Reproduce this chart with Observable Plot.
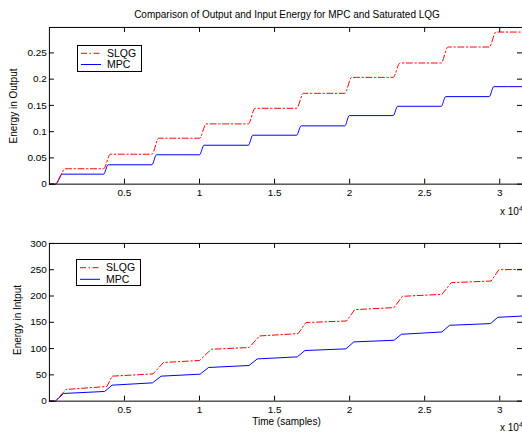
<!DOCTYPE html>
<html>
<head>
<meta charset="utf-8">
<script src="https://cdn.jsdelivr.net/npm/d3@7"></script>
<script src="https://cdn.jsdelivr.net/npm/@observablehq/plot@0.6"></script>
<style>
  body { margin: 0; background: #fff; }
  #fig { position: relative; width: 522px; height: 432px; overflow: hidden; background: #fff;
         font-family: "Liberation Sans", Arial, Helvetica, sans-serif; color: #000; }
  .abs { position: absolute; white-space: nowrap; font-size: 10px; line-height: 10px; }
  .panel { position: absolute; left: 0; }
  .ylab { position: absolute; white-space: nowrap; font-size: 10px; line-height: 10px;
          transform: translate(-50%, -50%) rotate(-90deg); }
  .legend { position: absolute; }
  sup { font-size: 7px; vertical-align: 4px; line-height: 0; }
</style>
</head>
<body>
<div id="fig">
  <div class="abs" id="title" style="left:287px; top:10px; transform:translateX(-50%);">Comparison of Output and Input Energy for MPC and Saturated LQG</div>
  <div class="panel" id="top" style="top:0px;"></div>
  <div class="panel" id="bottom" style="top:216px;"></div>
  <div class="ylab" style="left:14px; top:106px;">Energy in Output</div>
  <div class="ylab" style="left:17.5px; top:320px;">Energy in Intput</div>
  <div class="abs" style="left:286.5px; top:417px; transform:translateX(-50%);">Time (samples)</div>
  <div class="abs" style="left:500px; top:207px;">x 10<sup>4</sup></div>
  <div class="abs" style="left:500px; top:423px;">x 10<sup>4</sup></div>
  <svg class="legend" id="leg1" style="left:77px; top:45px;" width="66" height="28"></svg>
  <svg class="legend" id="leg2" style="left:76px; top:259px;" width="66" height="28"></svg>
</div>
<script>
// ---------- data ----------
const seriesNames = ["SLQG", "MPC"];
const xTicks = [5000, 10000, 15000, 20000, 25000, 30000];
const topYTicks = [0, 0.05, 0.1, 0.15, 0.2, 0.25];
const bottomYTicks = [0, 50, 100, 150, 200, 250, 300];

// Energy in Output
const topSLQGx = [0, 400, 1060, 3610, 4060, 6830, 7280, 10000, 10450, 13250, 13700, 16470, 16920, 19680, 20130, 22900, 23350, 26100, 26550, 29300, 29750, 31600];
const topSLQGy = [0, 0, 0.0293, 0.0293, 0.057, 0.057, 0.0875, 0.0875, 0.1148, 0.1148, 0.1445, 0.1445, 0.173, 0.173, 0.2034, 0.2034, 0.2308, 0.2308, 0.2612, 0.2612, 0.2897, 0.2897];
const topMPCx = [0, 400, 850, 3610, 3910, 6830, 7130, 10000, 10300, 13250, 13550, 16470, 16770, 19680, 19980, 22900, 23200, 26100, 26400, 29300, 29600, 31600];
const topMPCy = [0, 0, 0.019, 0.019, 0.0369, 0.0369, 0.0559, 0.0559, 0.0741, 0.0741, 0.0932, 0.0932, 0.111, 0.111, 0.1306, 0.1306, 0.1483, 0.1483, 0.1667, 0.1667, 0.1857, 0.1857];

// Energy in Input
const botSLQGx = [0, 400, 1100, 3830, 4170, 6900, 7600, 10000, 10780, 13300, 14000, 16570, 17090, 19790, 20340, 22960, 23510, 26150, 26770, 29430, 29940, 31600];
const botSLQGy = [0, 0, 22.2, 27.9, 47.5, 51.8, 73.5, 77.3, 98.7, 102, 124, 128.5, 149.5, 152.5, 174, 178, 199.4, 203.2, 225.4, 228.5, 250, 250.7];
const botMPCx = [0, 400, 950, 3680, 4170, 6870, 7440, 10040, 10600, 13300, 13850, 16510, 17020, 19750, 20280, 22960, 23450, 26150, 26660, 29390, 29870, 31600];
const botMPCy = [0, 0, 14.6, 18.4, 30.4, 34.8, 47.5, 51.3, 64, 67.8, 80.4, 84.2, 96.3, 99.4, 112.7, 115.8, 127.2, 131.6, 144.3, 147.5, 159.5, 162];

// ---------- styling ----------
const RED = "#ff0000", BLUE = "#0000ff";
const DASH = "6,2.5,1.5,2.5";
const W = 523, ML = 49;
const XMAX = 31516;

function toRows(xs, ys, name) { return xs.map((x, i) => ({x, y: ys[i], series: name})); }

function panel({yDomain, yTicks, yFormat, slqg, mpc, curve, height, mt, mb}) {
  const plotH = height - mt - mb;
  const plotW = W - ML;
  return Plot.plot({
    width: W, height,
    marginLeft: ML, marginRight: 0, marginTop: mt, marginBottom: mb,
    style: {fontFamily: "Liberation Sans, Arial, Helvetica, sans-serif", fontSize: "10px", color: "#000", background: "transparent"},
    x: {domain: [0, XMAX]},
    y: {domain: yDomain},
    marks: [
      Plot.line(mpc, {x: "x", y: "y", stroke: BLUE, strokeWidth: 1, curve}),
      Plot.line(slqg, {x: "x", y: "y", stroke: RED, strokeWidth: 1, strokeDasharray: DASH, curve}),
      Plot.axisX(xTicks, {tickSize: 0, tickPadding: 5, tickFormat: d => String(d / 1e4), label: null, fill: "#000"}),
      Plot.axisY(yTicks, {tickSize: 0, tickPadding: 2.5, tickFormat: yFormat, label: null, fill: "#000"}),
      Plot.tickX(xTicks, {x: d => d, insetTop: plotH - 5, stroke: "#000"}),
      Plot.tickX(xTicks, {x: d => d, insetBottom: plotH - 5, stroke: "#000"}),
      Plot.tickY(yTicks, {y: d => d, insetLeft: plotW - 5, stroke: "#000"}),
      Plot.tickY(yTicks, {y: d => d, insetRight: plotW - 5, stroke: "#000"}),
      Plot.frame({stroke: "#000"})
    ]
  });
}

const topChart = panel({
  yDomain: [0, 0.2985], yTicks: topYTicks, yFormat: d => String(d),
  slqg: toRows(topSLQGx, topSLQGy, seriesNames[0]),
  mpc: toRows(topMPCx, topMPCy, seriesNames[1]),
  curve: "monotone-x", height: 216, mt: 27, mb: 32
});
document.getElementById("top").appendChild(topChart);

const botChart = panel({
  yDomain: [0, 300], yTicks: bottomYTicks, yFormat: d => String(d),
  slqg: toRows(botSLQGx, botSLQGy, seriesNames[0]),
  mpc: toRows(botMPCx, botMPCy, seriesNames[1]),
  curve: "linear", height: 216, mt: 27, mb: 31
});
document.getElementById("bottom").appendChild(botChart);

// ---------- legends ----------
function legend(id, y1, y2) {
  const svg = d3.select("#" + id);
  svg.append("rect").attr("x", 0.5).attr("y", 0.5).attr("width", 64).attr("height", 26)
    .attr("fill", "#fff").attr("stroke", "#000").attr("stroke-width", 1);
  const rows = [{name: seriesNames[0], color: RED, dash: DASH, y: y1}, {name: seriesNames[1], color: BLUE, dash: null, y: y2}];
  rows.forEach(r => {
    svg.append("line").attr("x1", 4).attr("x2", 24).attr("y1", r.y).attr("y2", r.y)
      .attr("stroke", r.color).attr("stroke-width", 1).attr("stroke-dasharray", r.dash);
    svg.append("text").attr("x", 30).attr("y", r.y).attr("dy", "0.35em")
      .attr("font-size", 10.5).attr("font-family", "Liberation Sans, Arial, Helvetica, sans-serif")
      .attr("fill", "#000").text(r.name);
  });
}
legend("leg1", 8.3, 19.5);
legend("leg2", 8.7, 20.3);
</script>
</body>
</html>
